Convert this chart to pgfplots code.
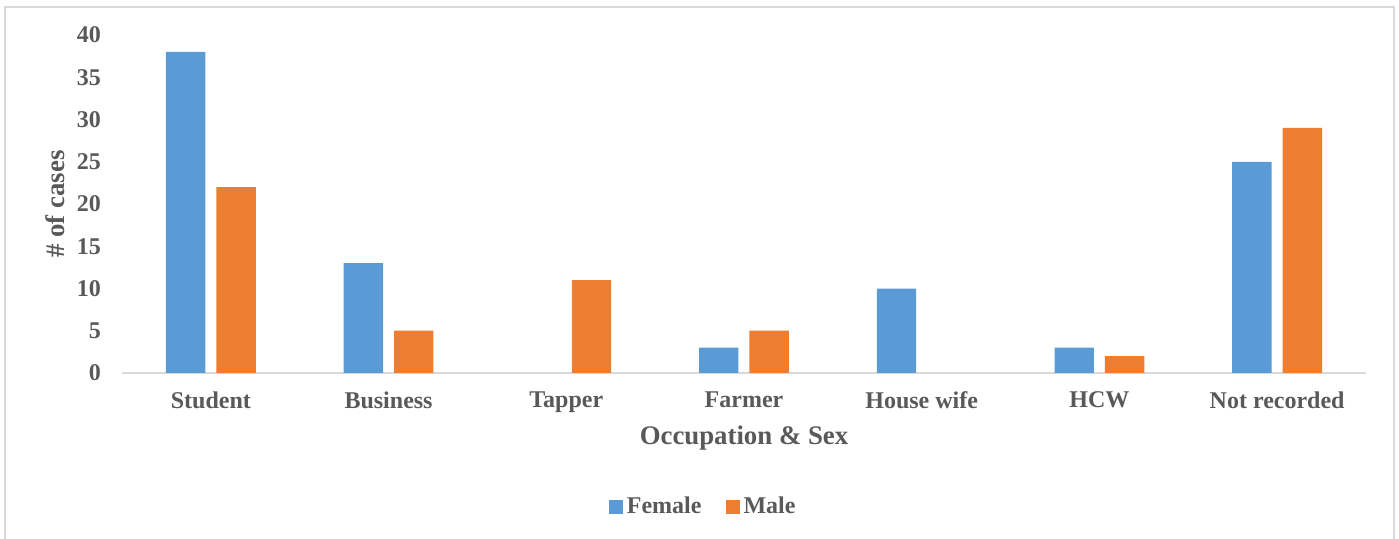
\documentclass[border=0pt]{standalone}
\usepackage{fontspec}
\setmainfont{Liberation Serif}
\usepackage{pgfplots}
\pgfplotsset{compat=1.18}
\definecolor{cfem}{HTML}{5B9BD5}
\definecolor{cmale}{HTML}{ED7D31}
\definecolor{ctext}{HTML}{595959}
\definecolor{caxis}{HTML}{D9D9D9}
\definecolor{cframe}{HTML}{D9D9D9}
\begin{document}
\begin{tikzpicture}
\useasboundingbox (0,0) rectangle (699.5pt,-269.5pt);
\draw[cframe,line width=0.8pt] (2.5pt,-269.5pt) -- (2.5pt,-3.5pt) -- (697pt,-3.5pt) -- (697pt,-269.5pt);
\begin{axis}[
  at={(61pt,-186.5pt)}, anchor=south west,
  scale only axis, width=622pt, height=169pt,
  ybar=5.5pt, bar width=19.7pt,
  xmin=-0.5, xmax=6.5, ymin=0, ymax=40,
  xtick={0,1,2,3,4,5,6},
  xticklabels={Student,Business,Tapper,Farmer,House wife,HCW,Not recorded},
  ytick={0,5,10,15,20,25,30,35,40},
  major tick length=0pt,
  axis x line*=bottom, axis y line*=left,
  x axis line style={caxis,line width=0.9pt,-},
  y axis line style={draw=none},
  /pgf/number format/assume math mode=true,
  ticklabel style={font=\bfseries\fontsize{12}{14}\selectfont, text=ctext},
  xticklabel style={yshift=-6pt},
  yticklabel style={xshift=-7pt},
  xlabel={Occupation \& Sex},
  ylabel={\# of cases},
  every axis x label/.style={at={(axis description cs:0.5,-0.192)},anchor=center,
    font=\bfseries\fontsize{13.4}{16}\selectfont, text=ctext},
  every axis y label/.style={at={(axis description cs:-0.054,0.5)},anchor=center,rotate=90,
    font=\bfseries\fontsize{13.4}{16}\selectfont, text=ctext},
  legend columns=2,
  legend style={at={(axis description cs:0.468,-0.396)},anchor=center,draw=none,fill=none,
    font=\bfseries\fontsize{12}{14}\selectfont, text=ctext,
    /tikz/every even column/.append style={column sep=10pt}},
  legend image code/.code={\fill[#1] (0pt,-3.5pt) rectangle (7pt,3.5pt);},
]
\addplot[fill=cfem,draw=none] coordinates {(0,38) (1,13) (3,3) (4,10) (5,3) (6,25)};
\addplot[fill=cmale,draw=none] coordinates {(0,22) (1,5) (2,11) (3,5) (5,2) (6,29)};
\legend{Female,Male}
\end{axis}
\end{tikzpicture}
\end{document}
